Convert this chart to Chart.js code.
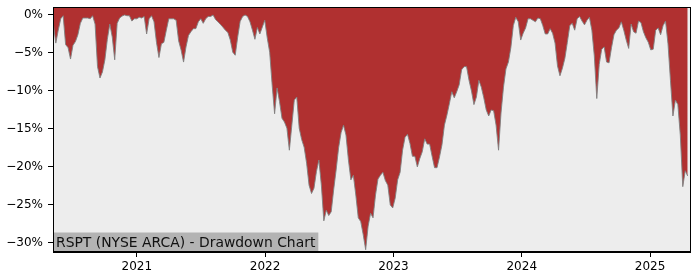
<!DOCTYPE html>
<html>
<head>
<meta charset="utf-8">
<title>RSPT Drawdown Chart</title>
<script src="https://cdn.jsdelivr.net/npm/chart.js"></script>
<style>
  html, body { margin: 0; padding: 0; background: #fff; }
  #wrap { width: 700px; height: 280px; }
</style>
</head>
<body>
<div id="wrap"><canvas id="drawdownChart" width="700" height="280"></canvas></div>
<script>
// ===== Data =====
const chartTitle = 'RSPT (NYSE ARCA) - Drawdown Chart';
const firstWeek = '2020-05-08';   // one value per week from here
const axisStart = '2020-05-07';
const axisEnd = '2025-04-26';
const yearTicks = [2021, 2022, 2023, 2024, 2025];
const pctTicks = [0, -5, -10, -15, -20, -25, -30];

// weekly drawdown from the running high, in percent
const drawdown = [
  -1.2, -3.7, -2.0, -0.5, -0.1, -3.9, -4.3, -5.8, -4.0, -3.5,
  -2.6, -1.1, -0.4, -0.4, -0.4, -0.5, -0.1, -1.2, -6.8, -8.3,
  -7.5, -5.9, -3.2, -1.2, -2.9, -5.9, -1.1, -0.4, -0.15, 0,
  -0.1, -0.1, -0.8, -0.5, -0.5, -0.3, -0.4, -0.2, -2.5, -0.5,
  -0.1, -0.9, -3.6, -5.6, -3.8, -3.6, -2.0, -0.5, -0.5, -0.5,
  -0.7, -3.4, -4.6, -6.2, -4.2, -2.7, -2.2, -1.8, -1.8, -0.9,
  -0.5, -1.1, -0.5, -0.2, -0.2, 0, -0.6, -0.9, -1.25, -1.6,
  -2.0, -2.3, -3.3, -4.9, -5.3, -2.9, -0.85, -0.2, 0, -0.2,
  -0.9, -2.0, -3.2, -1.65, -2.5, -1.6, -0.7, -3.0, -4.9, -9.2,
  -13.0, -9.6, -11.4, -13.6, -14.1, -14.9, -17.8, -14.5, -11.2, -10.8,
  -14.9, -16.4, -17.4, -19.5, -22.4, -23.5, -22.8, -20.6, -19.1, -22.4,
  -27.1, -25.7, -26.4, -25.9, -23.0, -20.4, -17.5, -15.5, -14.5, -15.8,
  -19.1, -21.7, -21.1, -23.7, -26.7, -27.2, -28.9, -30.9, -27.8, -26.1,
  -26.7, -23.7, -21.6, -21.1, -20.7, -21.8, -22.4, -25.0, -25.4, -24.1,
  -21.7, -20.7, -17.8, -16.1, -15.7, -16.9, -18.6, -18.6, -20.0, -18.9,
  -18.0, -16.3, -17.0, -17.0, -18.6, -20.1, -20.1, -18.7, -17.1, -14.5,
  -13.2, -11.7, -10.1, -10.9, -10.1, -9.2, -7.2, -6.8, -6.8, -8.6,
  -10.0, -11.8, -10.8, -8.6, -9.5, -10.9, -12.5, -13.3, -12.5, -12.6,
  -14.5, -17.8, -12.9, -9.5, -7.1, -6.2, -4.3, -1.4, -0.3, -0.9,
  -3.3, -2.4, -1.7, -0.5, -0.5, -0.7, -0.9, -0.4, -0.5, -1.4,
  -2.5, -2.5, -1.8, -2.4, -3.7, -6.7, -8.0, -7.0, -5.7, -3.6,
  -1.4, -1.1, -2.0, -0.5, -0.2, -0.8, -1.3, -0.7, -0.3, -2.0,
  -5.4, -11.0, -6.5, -4.5, -4.2, -6.2, -6.3, -4.3, -2.6, -2.0,
  -1.7, -0.9, -2.0, -3.3, -4.4, -1.2, -2.2, -2.4, -0.8, -1.0,
  -2.2, -3.0, -3.6, -4.6, -4.5, -2.0, -1.7, -2.6, -1.4, -0.8,
  -3.8, -8.6, -13.3, -11.2, -11.8, -15.8, -22.6, -20.5, -21.2
];

// ===== Helpers =====
const DAY = 864e5;

// date -> fractional year, so the axis can be a plain linear scale
function toYear(date) {
  const y = date.getUTCFullYear();
  const start = Date.UTC(y, 0, 1);
  const end = Date.UTC(y + 1, 0, 1);
  return y + (date.getTime() - start) / (end - start);
}

function weekPoints() {
  const t0 = new Date(firstWeek + 'T00:00:00Z').getTime();
  return drawdown.map((v, i) => ({ x: toYear(new Date(t0 + i * 7 * DAY)), y: v }));
}

function pctLabel(v) {
  return v === 0 ? '0%' : '\u2212' + Math.abs(v) + '%';
}

// ===== Plugins =====
const plotBackground = {
  id: 'plotBackground',
  beforeDraw(chart) {
    const { ctx, chartArea: a } = chart;
    ctx.save();
    ctx.fillStyle = '#ffffff';
    ctx.fillRect(0, 0, chart.width, chart.height);
    ctx.fillStyle = '#ededed';
    ctx.fillRect(a.left, a.top, a.right - a.left, a.bottom - a.top);
    ctx.restore();
  }
};

const titleBox = {
  id: 'titleBox',
  afterDatasetsDraw(chart) {
    const { ctx, chartArea: a } = chart;
    ctx.save();
    ctx.font = '13.9px "DejaVu Sans"';
    const w = ctx.measureText(chartTitle).width;
    ctx.fillStyle = '#b3b3b3';
    ctx.fillRect(a.left, a.bottom - 19.5, w + 6, 19.5);
    ctx.fillStyle = '#111';
    ctx.textBaseline = 'alphabetic';
    ctx.fillText(chartTitle, a.left + 3, a.bottom - 4.7);
    ctx.restore();
  }
};

const frame = {
  id: 'frame',
  afterDraw(chart) {
    const { ctx, chartArea: a } = chart;
    ctx.save();
    ctx.strokeStyle = '#000';
    ctx.lineWidth = 1;
    ctx.strokeRect(Math.round(a.left) + 0.5, Math.round(a.top) + 0.5,
      Math.round(a.right - a.left) - 1, Math.round(a.bottom - a.top) - 1);
    ctx.restore();
  }
};

// ===== Chart =====
const tickFont = { family: '"DejaVu Sans"', size: 12 };

new Chart(document.getElementById('drawdownChart'), {
  type: 'line',
  data: {
    datasets: [{
      data: weekPoints(),
      borderColor: 'rgba(128,128,128,0.9)',
      borderWidth: 1,
      backgroundColor: '#b03030',
      fill: 'end',
      pointRadius: 0,
      tension: 0
    }]
  },
  options: {
    responsive: false,
    animation: false,
    layout: { padding: { left: 0, right: 9.5, top: 7, bottom: 0 } },
    plugins: {
      legend: { display: false },
      tooltip: { enabled: false }
    },
    scales: {
      x: {
        type: 'linear',
        min: toYear(new Date(axisStart + 'T00:00:00Z')),
        max: toYear(new Date(axisEnd + 'T00:00:00Z')),
        afterBuildTicks: s => { s.ticks = yearTicks.map(v => ({ value: v })); },
        afterFit: s => { s.height = 28; s.paddingLeft = 0; s.paddingRight = 0; },
        ticks: {
          callback: v => String(v),
          font: tickFont,
          color: '#000',
          padding: 3,
          maxRotation: 0,
          autoSkip: false
        },
        grid: { drawOnChartArea: false, tickLength: 5, color: '#000' },
        border: { color: '#000' }
      },
      y: {
        min: -31.2,
        max: 1.05,
        afterBuildTicks: s => { s.ticks = pctTicks.map(v => ({ value: v })); },
        afterFit: s => { s.width = 53; s.paddingTop = 0; s.paddingBottom = 0; },
        ticks: {
          callback: v => pctLabel(v),
          font: tickFont,
          color: '#000',
          padding: 5,
          autoSkip: false
        },
        grid: { drawOnChartArea: false, tickLength: 5, color: '#000' },
        border: { color: '#000' }
      }
    }
  },
  plugins: [plotBackground, titleBox, frame]
});
</script>
</body>
</html>
